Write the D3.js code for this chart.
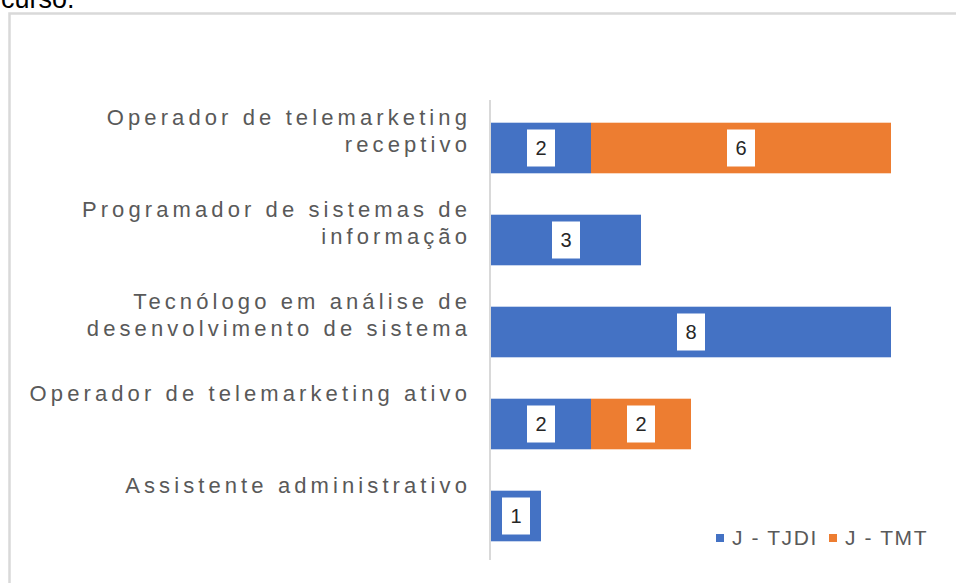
<!DOCTYPE html>
<html>
<head>
<meta charset="utf-8">
<script src="https://cdn.jsdelivr.net/npm/d3@7"></script>
<style>
  html, body { margin: 0; padding: 0; background: #fff; overflow: hidden; }
  svg { display: block; }
</style>
</head>
<body>
<script>
const categories = [
  ["Operador de telemarketing", "receptivo"],
  ["Programador de sistemas de", "informação"],
  ["Tecnólogo em análise de", "desenvolvimento de sistema"],
  ["Operador de telemarketing ativo"],
  ["Assistente administrativo"]
];
const seriesNames = ["J - TJDI", "J - TMT"];
const tjdi = [2, 3, 8, 2, 1];
const tmt = [6, 0, 0, 2, 0];
const colors = ["#4472C4", "#ED7D31"];

const W = 956, H = 583;

const svg = d3.select("body").append("svg")
  .attr("width", W)
  .attr("height", H);

// caption fragment cut off above the chart (as in the source image)
svg.append("text")
  .attr("x", 1)
  .attr("y", 8)
  .attr("font-family", "Liberation Sans, Arial, sans-serif")
  .attr("font-size", 27)
  .attr("fill", "#000")
  .text("curso.");

// chart frame
svg.append("rect")
  .attr("x", 9.5)
  .attr("y", 13.5)
  .attr("width", W + 20)
  .attr("height", H + 20)
  .attr("fill", "none")
  .attr("stroke", "#d9d9d9")
  .attr("stroke-width", 2.5);

const keys = categories.map((c, i) => i);

const y = d3.scaleBand()
  .domain(keys)
  .range([102, 562])
  .paddingInner(0.45)
  .paddingOuter(0.225);

const x = d3.scaleLinear()
  .domain([0, 8])
  .range([491, 891]);

const rows = keys.map(i => ({ i, values: [tjdi[i], tmt[i]] }));
const stack = d3.stack().keys([0, 1]).value((d, k) => d.values[k]);
const stacked = stack(rows);

// category axis line
svg.append("line")
  .attr("x1", 490).attr("x2", 490)
  .attr("y1", 100).attr("y2", 560)
  .attr("stroke", "#d9d9d9")
  .attr("stroke-width", 2);

const layers = svg.selectAll("g.layer")
  .data(stacked)
  .join("g")
  .attr("class", "layer")
  .attr("fill", (d, k) => colors[k]);

layers.selectAll("rect")
  .data(d => d.filter(s => s[1] - s[0] > 0))
  .join("rect")
  .attr("x", s => x(s[0]))
  .attr("width", s => x(s[1]) - x(s[0]))
  .attr("y", s => y(s.data.i))
  .attr("height", y.bandwidth());

// data labels
const labelData = [];
stacked.forEach(layer => layer.forEach(s => {
  const v = s[1] - s[0];
  if (v > 0) labelData.push({ v, cx: x((s[0] + s[1]) / 2), cy: y(s.data.i) + y.bandwidth() / 2 });
}));

const lab = svg.selectAll("g.dlabel")
  .data(labelData)
  .join("g")
  .attr("class", "dlabel")
  .attr("transform", d => `translate(${d.cx},${d.cy})`);

lab.append("rect")
  .attr("x", -14).attr("y", -18.5)
  .attr("width", 28).attr("height", 37)
  .attr("fill", "#fff");

lab.append("text")
  .attr("text-anchor", "middle")
  .attr("dy", "0.36em")
  .attr("font-family", "Liberation Sans, Arial, sans-serif")
  .attr("font-size", 20)
  .attr("fill", "#262626")
  .text(d => d.v);

// category labels
const catG = svg.selectAll("text.cat")
  .data(categories)
  .join("text")
  .attr("class", "cat")
  .attr("text-anchor", "end")
  .attr("font-family", "Liberation Sans, Arial, sans-serif")
  .attr("font-size", 22)
  .attr("letter-spacing", 4.1)
  .attr("fill", "#595959");

catG.selectAll("tspan")
  .data((d, i) => d.map((line, j) => ({ line, j, i })))
  .join("tspan")
  .attr("x", 471)
  .attr("y", d => y(d.i) + y.bandwidth() / 2 - 31 + d.j * 27)
  .attr("dy", "0.35em")
  .text(d => d.line);

// legend
const legend = svg.append("g")
  .attr("font-family", "Liberation Sans, Arial, sans-serif")
  .attr("font-size", 21)
  .attr("fill", "#595959");

const legendX = [716, 829];
seriesNames.forEach((name, k) => {
  legend.append("rect")
    .attr("x", legendX[k]).attr("y", 534)
    .attr("width", 8).attr("height", 8)
    .attr("fill", colors[k]);
  legend.append("text")
    .attr("x", legendX[k] + 16)
    .attr("y", 538)
    .attr("dy", "0.35em")
    .attr("letter-spacing", 1.6)
    .text(name);
});
</script>
</body>
</html>
